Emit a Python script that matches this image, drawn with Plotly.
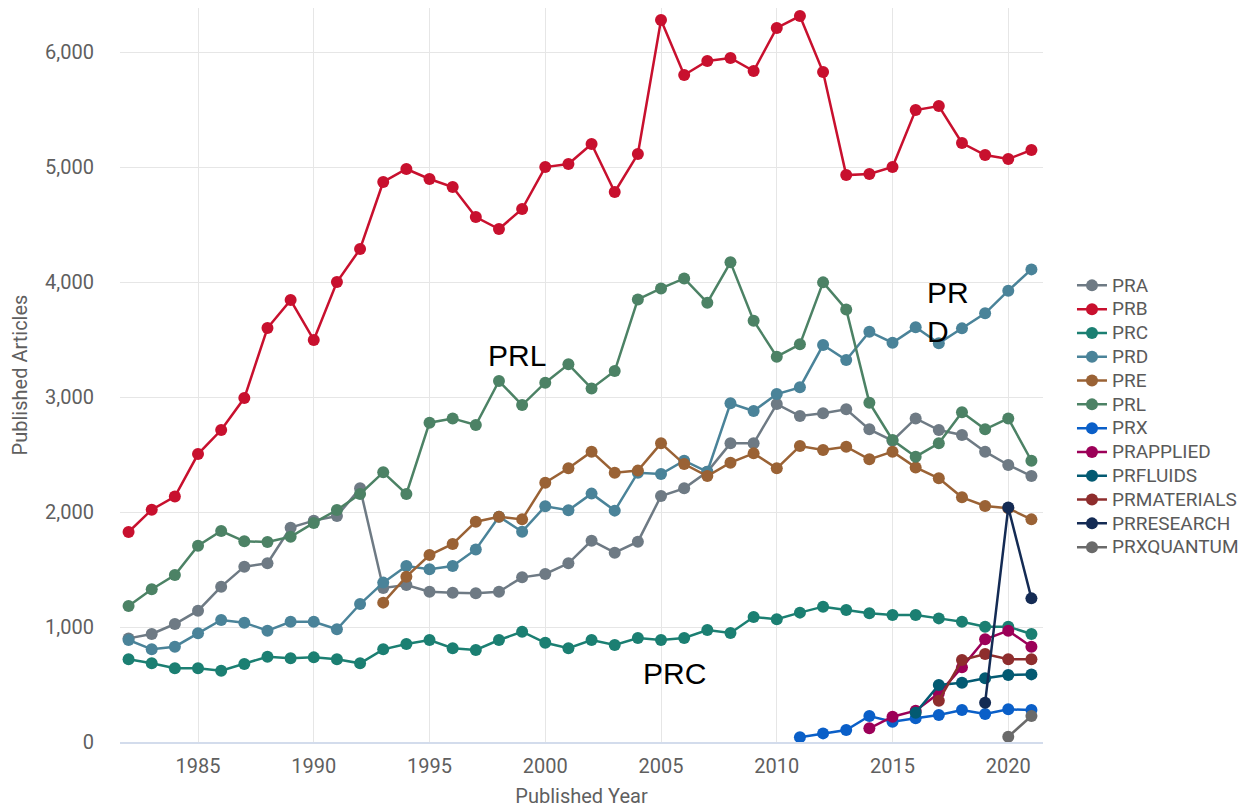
import plotly.graph_objects as go

years = list(range(1982, 2022))

PRA = [901, 939, 1026, 1142, 1351, 1525, 1554, 1864, 1925, 1965, 2206, 1340, 1365, 1307, 1298, 1293,
       1307, 1432, 1461, 1554, 1751, 1646, 1742, 2139, 2206, 2350, 2597, 2597, 2939, 2835, 2858, 2893,
       2719, 2620, 2814, 2713, 2670, 2525, 2409, 2313]
PRB = [1826, 2020, 2135, 2504, 2713, 2991, 3600, 3843, 3496, 4000, 4287, 4870, 4983, 4896, 4826, 4565,
       4461, 4635, 5000, 5026, 5200, 4783, 5113, 6278, 5800, 5922, 5948, 5835, 6209, 6313, 5826, 4930,
       4939, 5000, 5496, 5530, 5209, 5104, 5070, 5148]
PRC = [719, 684, 641, 641, 620, 678, 742, 728, 736, 719, 684, 806, 852, 887, 815, 800,
       887, 959, 863, 815, 887, 843, 904, 887, 904, 974, 948, 1087, 1067, 1125, 1177, 1148,
       1119, 1104, 1104, 1075, 1046, 1003, 1003, 939]
PRD = [887, 806, 829, 945, 1061, 1038, 968, 1046, 1046, 980, 1200, 1386, 1530, 1502, 1530, 1675,
       1959, 1829, 2050, 2015, 2160, 2012, 2342, 2330, 2446, 2350, 2945, 2878, 3026, 3084, 3452, 3322,
       3568, 3472, 3606, 3467, 3597, 3728, 3925, 4110]
PRE = [None] * 11 + [1212, 1438, 1626, 1722, 1916, 1959, 1936, 2255, 2380, 2525, 2342, 2360, 2597,
       2417, 2313, 2429, 2510, 2380, 2574, 2539, 2568, 2458, 2525, 2388, 2293, 2128, 2052, 2032, 1936]
PRL = [1183, 1328, 1452, 1707, 1835, 1745, 1740, 1785, 1905, 2017, 2157, 2345, 2157, 2777, 2814, 2757,
       3139, 2930, 3125, 3284, 3075, 3226, 3849, 3944, 4031, 3820, 4171, 3664, 3351, 3458, 3997, 3762,
       2951, 2626, 2481, 2597, 2867, 2719, 2814, 2446]
PRX = [None] * 29 + [41, 75, 104, 226, 177, 206, 235, 278, 243, 284, 278]
PRAPPLIED = [None] * 32 + [119, 220, 272, 423, 649, 893, 968, 829]
PRFLUIDS = [None] * 34 + [255, 496, 516, 554, 583, 588]
PRMATERIALS = [None] * 35 + [359, 713, 765, 719, 719]
PRRESEARCH = [None] * 37 + [342, 2040, 1249]
PRXQUANTUM = [None] * 38 + [46, 226]

series = [
    ("PRA", PRA, "#6e7a84"),
    ("PRB", PRB, "#c8102e"),
    ("PRC", PRC, "#1b7f72"),
    ("PRD", PRD, "#4a8399"),
    ("PRE", PRE, "#9a6235"),
    ("PRL", PRL, "#4c8265"),
    ("PRX", PRX, "#0a5fc8"),
    ("PRAPPLIED", PRAPPLIED, "#9c0058"),
    ("PRFLUIDS", PRFLUIDS, "#035a72"),
    ("PRMATERIALS", PRMATERIALS, "#8e2d2d"),
    ("PRRESEARCH", PRRESEARCH, "#142b54"),
    ("PRXQUANTUM", PRXQUANTUM, "#6a6a6a"),
]

annotations_text = [("PRL", 1998.78, 3365, "center"),
                    ("PRC", 2005.6, 600, "center"),
                    ("PR<br>D", 2016.4, 3740, "left")]

fig = go.Figure()
for name, vals, color in series:
    fig.add_trace(go.Scatter(
        x=years, y=vals,
        name='<span style="font-size:19px">' + name + '</span>',
        mode="lines+markers",
        line=dict(color=color, width=2.5),
        marker=dict(color=color, size=12),
        connectgaps=False,
    ))

for txt, ax, ay, al in annotations_text:
    fig.add_annotation(x=ax, y=ay, text=txt, showarrow=False, xanchor=al, align=al,
                       font=dict(family="Liberation Sans, Arial", size=30, color="#000000"))

axis_font = dict(family="Roboto", size=20, color="#5f5f5f")
fig.update_layout(
    width=1245, height=800,
    margin=dict(l=112, r=210, t=0, b=66),
    paper_bgcolor="white", plot_bgcolor="white",
    font=dict(family="Roboto", size=16, color="#5a5a5a"),
    showlegend=True,
    legend=dict(x=1.0314, xanchor="left", y=0.4435, yanchor="middle",
                font=dict(family="Roboto", size=16, color="#5a5a5a"),
                bgcolor="rgba(0,0,0,0)", tracegroupgap=0),
    xaxis=dict(range=[1981.63, 2021.5], tickvals=[1985, 1990, 1995, 2000, 2005, 2010, 2015, 2020],
               showgrid=True, gridcolor="#e6e6e6", gridwidth=1, zeroline=False,
               showline=True, linecolor="#d3dcec", linewidth=2,
               tickfont=axis_font, ticklabelstandoff=5,
               title=dict(text="Published Year", font=axis_font, standoff=13)),
    yaxis=dict(range=[0, 6383], tickvals=[0, 1000, 2000, 3000, 4000, 5000, 6000],
               tickformat=",", showgrid=True, gridcolor="#e6e6e6", gridwidth=1, zeroline=False,
               showline=False, tickfont=axis_font, ticklabelstandoff=25,
               title=dict(text="Published Articles", font=axis_font, standoff=17)),
)

fig.write_html("out.html")
